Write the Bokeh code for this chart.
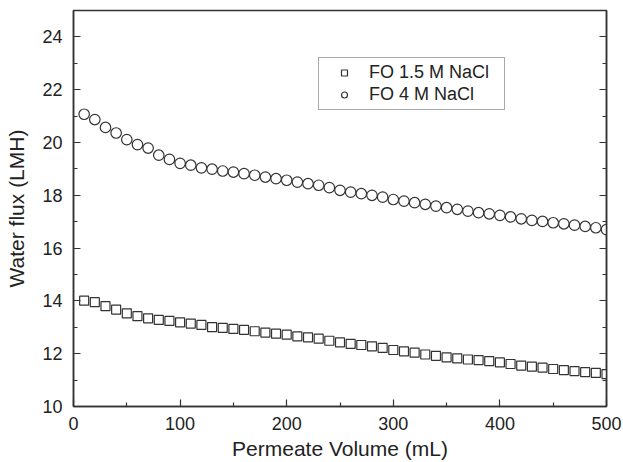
from bokeh.plotting import figure
from bokeh.models import (Range1d, LinearAxis, FixedTicker, Legend, LegendItem,
                          CustomJSTickFormatter, ColumnDataSource)
from bokeh.embed import file_html
from bokeh.resources import INLINE

volume = [10, 20, 30, 40, 50, 60, 70, 80, 90, 100,
          110, 120, 130, 140, 150, 160, 170, 180, 190, 200,
          210, 220, 230, 240, 250, 260, 270, 280, 290, 300,
          310, 320, 330, 340, 350, 360, 370, 380, 390, 400,
          410, 420, 430, 440, 450, 460, 470, 480, 490, 500]

flux_1_5M = [14.01, 13.95, 13.80, 13.67, 13.53, 13.42, 13.34, 13.28, 13.24, 13.19,
             13.14, 13.09, 13.01, 12.98, 12.94, 12.90, 12.85, 12.80, 12.76, 12.72,
             12.66, 12.62, 12.57, 12.49, 12.43, 12.37, 12.33, 12.28, 12.22, 12.14,
             12.09, 12.04, 11.97, 11.92, 11.86, 11.82, 11.78, 11.76, 11.72, 11.67,
             11.61, 11.55, 11.51, 11.47, 11.42, 11.38, 11.34, 11.30, 11.27, 11.23]

flux_4M = [21.07, 20.87, 20.57, 20.36, 20.11, 19.92, 19.79, 19.52, 19.36, 19.21,
           19.14, 19.04, 18.99, 18.92, 18.88, 18.82, 18.76, 18.69, 18.63, 18.57,
           18.50, 18.44, 18.38, 18.29, 18.19, 18.12, 18.06, 18.00, 17.93, 17.84,
           17.78, 17.72, 17.66, 17.59, 17.53, 17.47, 17.40, 17.34, 17.30, 17.24,
           17.18, 17.11, 17.05, 17.01, 16.96, 16.92, 16.87, 16.82, 16.77, 16.70]

series_labels = ["FO 1.5 M NaCl", "FO 4 M NaCl"]
x_ticks = [0, 100, 200, 300, 400, 500]
x_minor = [50, 150, 250, 350, 450]
y_ticks = [10, 12, 14, 16, 18, 20, 22, 24]
y_minor = [11, 13, 15, 17, 19, 21, 23, 25]

FONT = "Liberation Sans"
INK = "#222222"
AXIS = "#333333"

p = figure(width=623, height=462, output_backend="svg", toolbar_location=None,
           x_range=Range1d(0, 500), y_range=Range1d(10, 25),
           min_border_left=73, min_border_right=17, min_border_top=10,
           min_border_bottom=56, background_fill_color="white",
           border_fill_color="white")
p.xgrid.visible = False
p.ygrid.visible = False
p.outline_line_color = AXIS
p.outline_line_width = 1.5

src = ColumnDataSource(dict(v=volume, a=flux_1_5M, b=flux_4M))

r1 = p.scatter("v", "a", source=src, marker="square", size=9,
               line_color=AXIS, line_width=1.2, fill_color="white")
r2 = p.scatter("v", "b", source=src, marker="circle", size=10.5,
               line_color=AXIS, line_width=1.2, fill_color="white")

for ax, ticks, minor in ((p.xaxis[0], x_ticks, x_minor), (p.yaxis[0], y_ticks, y_minor)):
    ax.ticker = FixedTicker(ticks=ticks, minor_ticks=minor)
    ax.axis_line_color = AXIS
    ax.axis_line_width = 1.5
    ax.major_tick_line_color = AXIS
    ax.minor_tick_line_color = AXIS
    ax.major_tick_line_width = 1.2
    ax.minor_tick_line_width = 1.2
    ax.major_tick_in = 7
    ax.major_tick_out = 0
    ax.minor_tick_in = 4
    ax.minor_tick_out = 0
    ax.major_label_text_font = FONT
    ax.major_label_text_font_size = "18px"
    ax.major_label_text_color = INK
    ax.axis_label_text_font = FONT
    ax.axis_label_text_font_size = "21px"
    ax.axis_label_text_font_style = "normal"
    ax.axis_label_text_color = INK

p.xaxis[0].axis_label = "Permeate Volume (mL)"
p.xaxis[0].major_label_standoff = 10
p.xaxis[0].axis_label_standoff = 4
p.yaxis[0].axis_label = "Water flux (LMH)"
p.yaxis[0].major_label_standoff = 11
p.yaxis[0].axis_label_standoff = 11

right = LinearAxis(ticker=FixedTicker(ticks=y_ticks, minor_ticks=y_minor),
                   formatter=CustomJSTickFormatter(code="return ''"),
                   axis_line_color=AXIS, axis_line_width=1.5,
                   major_tick_line_color=AXIS, minor_tick_line_color=AXIS,
                   major_tick_line_width=1.2, minor_tick_line_width=1.2,
                   major_tick_in=7, major_tick_out=0,
                   minor_tick_in=4, minor_tick_out=0,
                   major_label_standoff=0)
p.add_layout(right, "right")

legend = Legend(items=[LegendItem(label=series_labels[0], renderers=[r1]),
                       LegendItem(label=series_labels[1], renderers=[r2])],
                location=(245, 296), padding=4, spacing=1, margin=0,
                glyph_width=42, glyph_height=15, label_standoff=4,
                label_width=131, label_height=20,
                label_text_font=FONT, label_text_font_size="18px",
                label_text_color=INK, border_line_color="#555555",
                border_line_width=1.2, background_fill_alpha=1.0)
p.add_layout(legend, "center")

open("out.html", "w").write(file_html(p, INLINE))
